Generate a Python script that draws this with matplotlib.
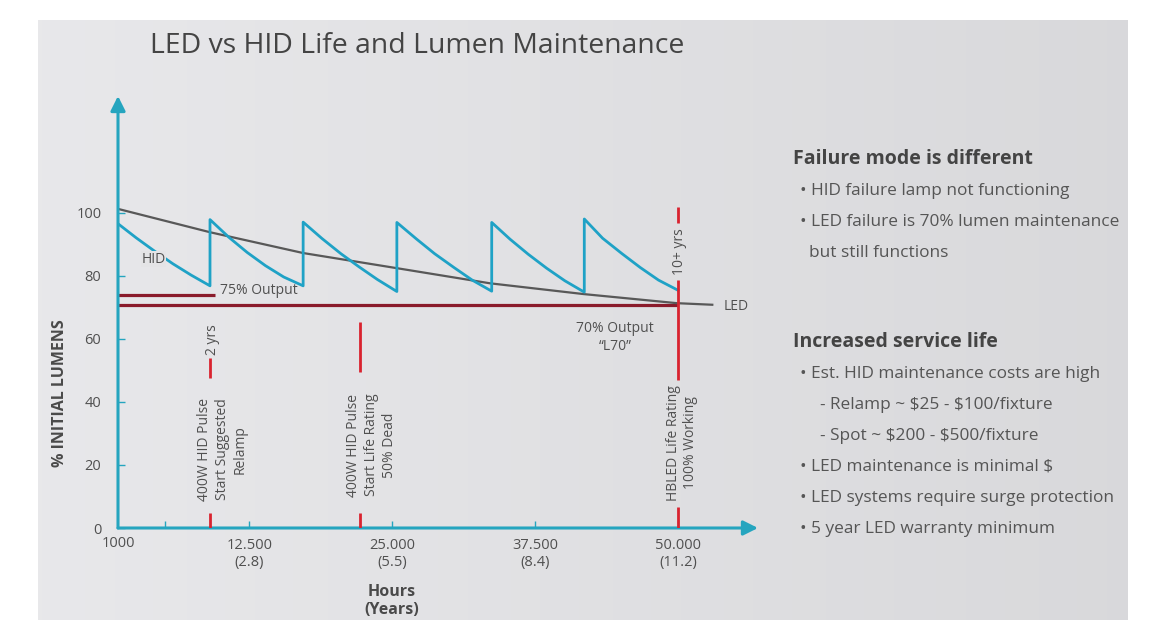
import numpy as np
import matplotlib.pyplot as plt

plt.rcParams['font.family'] = ['Open Sans', 'DejaVu Sans']

# HID sawtooth (hours, % initial lumens), one row per relamp cycle
hid_hours = [1000, 2600, 4200, 5800, 7400, 9050,
             9050, 10700, 12300, 13900, 15500, 17200,
             17200, 18850, 20500, 22100, 23700, 25400,
             25400, 27100, 28700, 30400, 32000, 33700,
             33700, 35300, 36900, 38500, 40100, 41800,
             41800, 43400, 45100, 46700, 48300, 50000]
hid_vals = [96.5, 92.0, 87.8, 83.8, 80.2, 76.8,
            97.8, 92.2, 87.4, 83.2, 79.6, 76.8,
            97.0, 91.8, 87.0, 82.8, 78.8, 75.0,
            96.9, 91.7, 87.0, 82.6, 78.6, 75.1,
            96.9, 91.6, 86.8, 82.4, 78.4, 74.8,
            98.0, 91.9, 87.0, 82.6, 78.6, 75.4]

led_hours = [1000, 9050, 17200, 25400, 33550, 41700, 49900, 53000]
led_vals = [101.2, 93.8, 87.2, 82.4, 77.6, 74.2, 71.3, 70.8]

out75_level, out75_end = 73.8, 9500
l70_level, l70_end = 70.6, 50000

# red marker lines: hour position and visible segments
marker_hours = [9050, 22200, 50000]
marker_segments = [[(0, 4.7), (47.5, 53.8)],
                   [(0, 4.7), (49.4, 65.3)],
                   [(0, 6.6), (46.9, 78.6), (96.7, 101.7)]]

xtick_pos = [5100, 12500, 25000, 37500, 50000]
xtick_lab = ['', '12.500\n(2.8)', '25.000\n(5.5)', '37.500\n(8.4)', '50.000\n(11.2)']
ytick_pos = [0, 20, 40, 60, 80, 100]

teal = '#25a5bf'
hid_col = '#1fa2c6'
dark_red = '#8a1b2b'
red = '#d9232f'
txt = '#505050'

fig = plt.figure(figsize=(11.59, 6.26), dpi=100)

# grey panel behind everything
bg = fig.add_axes([38/1159, 6/626, 1090/1159, 600/626], zorder=-5)
grad = np.linspace(0, 1, 256)[None, :]
cols = np.array([0.91, 0.91, 0.92])[None, None, :] * (1 - grad[..., None]) + \
       np.array([0.85, 0.85, 0.86])[None, None, :] * grad[..., None]
bg.imshow(cols, aspect='auto', extent=[0, 1, 0, 1])
bg.axis('off')

ax = fig.add_axes([118/1159, 98/626, 640/1159, 432/626])
ax.patch.set_alpha(0)
ax.set_xlim(1000, 57000)
ax.set_ylim(0, 137)
for s in ax.spines.values():
    s.set_visible(False)

ax.annotate('', xy=(1, 0), xytext=(0, 0), xycoords='axes fraction',
            arrowprops=dict(arrowstyle='-|>', color=teal, lw=2.2, mutation_scale=22, shrinkA=0, shrinkB=0))
ax.annotate('', xy=(0, 1), xytext=(0, 0), xycoords='axes fraction',
            arrowprops=dict(arrowstyle='-|>', color=teal, lw=2.2, mutation_scale=22, shrinkA=0, shrinkB=0))

ax.set_xticks(xtick_pos)
ax.set_xticklabels(xtick_lab)
ax.set_yticks(ytick_pos)
ax.set_yticklabels([str(v) for v in ytick_pos])
ax.tick_params(direction='in', length=5, width=1, color=teal, labelcolor=txt, labelsize=10.5, pad=7)
ax.tick_params(axis='y', pad=12)
ax.text(1000, -2.5, '1000', ha='center', va='top', fontsize=10.5, color=txt)

# lines
ax.plot([1000, out75_end], [out75_level]*2, color=dark_red, lw=2.3, solid_capstyle='butt')
ax.plot([1000, l70_end], [l70_level]*2, color=dark_red, lw=2.3, solid_capstyle='butt')
ax.plot(led_hours, led_vals, color='#585858', lw=1.6)
ax.plot(hid_hours, hid_vals, color=hid_col, lw=2)

for h, segs in zip(marker_hours, marker_segments):
    for y0, y1 in segs:
        ax.plot([h, h], [y0, y1], color=red, lw=2, solid_capstyle='butt', zorder=4)

# annotations
ax.text(4100, 85.3, 'HID', fontsize=10, color=txt, ha='center', va='center',
        bbox=dict(boxstyle='square,pad=0.05', fc='#e4e4e6', ec='none'))
ax.text(9900, 75.3, '75% Output', fontsize=10, color=txt, ha='left', va='center')
ax.text(54000, 70.4, 'LED', fontsize=10, color=txt, ha='left', va='center')
ax.text(44500, 60.5, '70% Output\n\u201cL70\u201d', fontsize=10, color=txt, ha='center', va='center',
        linespacing=1.3)
ax.text(9300, 59.6, '2 yrs', rotation=90, fontsize=10, color=txt, ha='center', va='center')
ax.text(50100, 87.5, '10+ yrs', rotation=90, fontsize=10, color=txt, ha='center', va='center')
ax.text(10100, 25, '400W HID Pulse\nStart Suggested\nRelamp', rotation=90, fontsize=10,
        color=txt, ha='center', va='center', multialignment='center', linespacing=1.25)
ax.text(23200, 26.3, '400W HID Pulse\nStart Life Rating\n50% Dead', rotation=90, fontsize=10,
        color=txt, ha='center', va='center', multialignment='center', linespacing=1.25)
ax.text(50350, 27, 'HBLED Life Rating\n100% Working', rotation=90, fontsize=10,
        color=txt, ha='center', va='center', multialignment='center', linespacing=1.25)

fig.text(60/1159, 1 - 393/626, '% INITIAL LUMENS', rotation=90, fontsize=11.5, fontweight='bold',
         color='#4a4a4a', ha='center', va='center')
fig.text(392/1159, 1 - 601/626, 'Hours\n(Years)', fontsize=11.5, fontweight='bold', color='#4a4a4a',
         ha='center', va='center', linespacing=1.25)
fig.text(150/1159, 1 - 46/626, 'LED vs HID Life and Lumen Maintenance', fontsize=20.4,
         color='#444444', ha='left', va='center')

# side notes
right = [(793, 159, 'Failure mode is different', True),
         (800, 191, '\u2022 HID failure lamp not functioning', False),
         (800, 222, '\u2022 LED failure is 70% lumen maintenance', False),
         (809, 253, 'but still functions', False),
         (793, 342, 'Increased service life', True),
         (800, 374, '\u2022 Est. HID maintenance costs are high', False),
         (820, 405, '- Relamp ~ \\$25 - \\$100/fixture', False),
         (820, 436, '- Spot ~ \\$200 - \\$500/fixture', False),
         (800, 467, '\u2022 LED maintenance is minimal \\$', False),
         (800, 498, '\u2022 LED systems require surge protection', False),
         (800, 529, '\u2022 5 year LED warranty minimum', False)]
for x, y, s, b in right:
    fig.text(x/1159, 1 - y/626, s, fontsize=14 if b else 12.4,
             fontweight='bold' if b else 'normal', color='#444444' if b else '#555555',
             ha='left', va='center')

fig.savefig('out.png', dpi=100)
